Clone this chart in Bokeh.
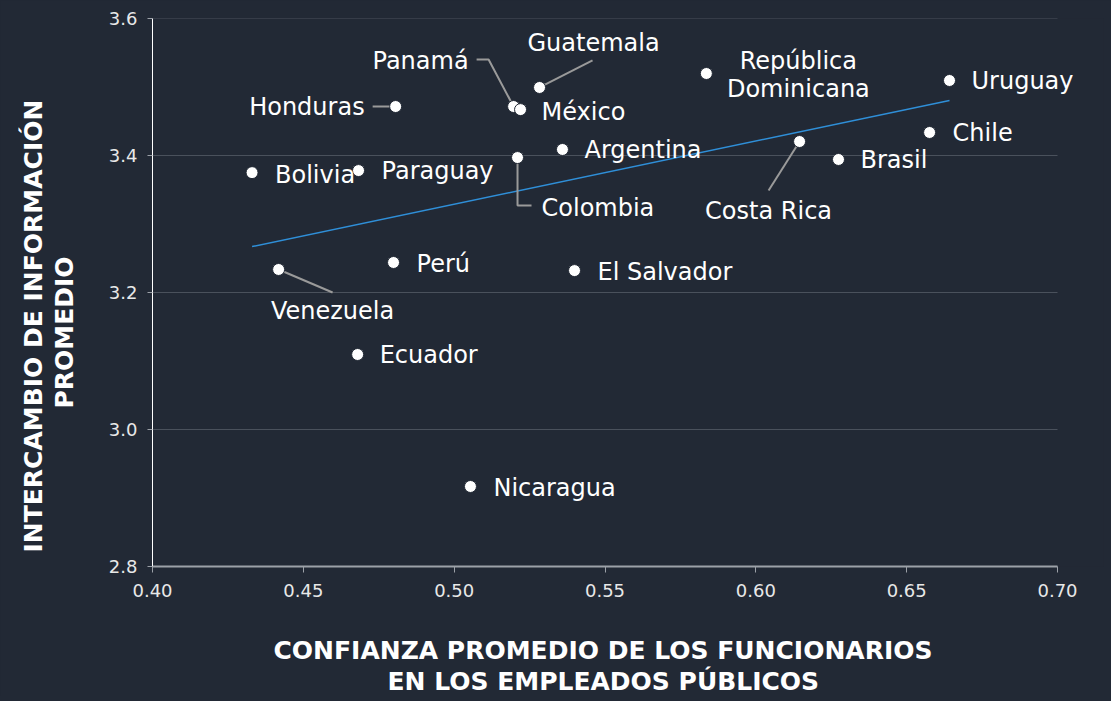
from bokeh.plotting import figure
from bokeh.models import Range1d, FixedTicker, NumeralTickFormatter, Label, Title
from bokeh.embed import file_html
from bokeh.resources import INLINE

# ---------------- data ----------------
countries = ["Bolivia", "Honduras", "Paraguay", "Venezuela", "Perú", "Ecuador",
             "Nicaragua", "Panamá", "México", "Guatemala", "Colombia", "Argentina",
             "El Salvador", "República\nDominicana", "Costa Rica", "Brasil", "Chile", "Uruguay"]
confianza = [0.433, 0.4806, 0.4683, 0.4418, 0.4799, 0.468,
             0.5054, 0.5197, 0.522, 0.5283, 0.521, 0.5359,
             0.5399, 0.5836, 0.6145, 0.6274, 0.6576, 0.6642]
intercambio = [3.375, 3.4715, 3.378, 3.2336, 3.2438, 3.1095,
               2.9168, 3.4715, 3.467, 3.4993, 3.397, 3.4088,
               3.232, 3.5197, 3.4204, 3.3942, 3.4336, 3.5095]
trend_x = [0.433, 0.6642]
trend_y = [3.267, 3.4803]
x_ticks = [0.40, 0.45, 0.50, 0.55, 0.60, 0.65, 0.70]
y_ticks = [2.8, 3.0, 3.2, 3.4, 3.6]
x_title_lines = ["CONFIANZA PROMEDIO DE LOS FUNCIONARIOS", "EN LOS EMPLEADOS PÚBLICOS"]
y_title_lines = ["INTERCAMBIO DE INFORMACIÓN", "PROMEDIO"]

# ---------------- layout (screen pixel offsets, x right / y down) ----------------
label_dx = [23, -31, 23, 54, 23, 22, 23, -45, 21, 54, 24, 22, 23, 92, -31, 22, 23, 22]
label_dy = [2, 0, 0, 42, 2, 1, 2, -46, 2, -44, 50, 1, 1, 1, 69, 1, 1, 1]
label_align = ["left", "right", "left", "center", "left", "left", "left", "right", "left",
               "center", "left", "left", "left", "center", "center", "left", "left", "left"]
leaders = {
    "Honduras": [(0, 0), (-23, 0)],
    "Panamá": [(0, 0), (-25, -47), (-37, -47)],
    "Guatemala": [(0, 0), (53, -27)],
    "Colombia": [(0, 0), (0, 48), (14, 48)],
    "Costa Rica": [(0, 0), (-31, 49)],
    "Venezuela": [(0, 0), (54, 23)],
}

BG = "#222935"
FONT = "DejaVu Sans"
TITLE_SIZE = "25px"
X0, X1, Y0, Y1 = 0.40, 0.70, 2.8, 3.6
AXIS_W, FH = 905, 548           # pixel extent of the 0.40-0.70 axis and of the frame height
LEFT, TOP, RIGHT, BOTTOM = 152, 18, 8, 130
TOTAL_W = 1111
FW = TOTAL_W - LEFT - RIGHT     # frame extends right of 0.70 so labels are not clipped
ppx = AXIS_W / (X1 - X0)
ppy = FH / (Y1 - Y0)
XMAX = X0 + FW / ppx

p = figure(frame_width=FW, frame_height=FH,
           x_range=Range1d(X0, XMAX), y_range=Range1d(Y0, Y1),
           output_backend="svg", toolbar_location=None,
           min_border_left=LEFT, min_border_right=RIGHT, min_border_top=TOP,
           min_border_bottom=BOTTOM)
p.background_fill_color = BG
p.border_fill_color = BG
p.outline_line_color = None
p.xgrid.grid_line_color = None
p.ygrid.grid_line_color = None

p.xaxis.ticker = FixedTicker(ticks=x_ticks)
p.yaxis.ticker = FixedTicker(ticks=y_ticks)
p.xaxis.formatter = NumeralTickFormatter(format="0.00")
p.yaxis.formatter = NumeralTickFormatter(format="0.0")
p.xaxis.bounds = (X0, X1)

for ax in (p.xaxis[0], p.yaxis[0]):
    ax.minor_tick_line_color = None
    ax.major_tick_in = 0
    ax.major_label_text_font = FONT
    ax.major_label_text_font_size = "18px"
    ax.major_label_text_color = "#e8e8e8"

p.xaxis.axis_line_color = "#9ca1a8"
p.xaxis.axis_line_width = 2
p.xaxis.major_tick_line_color = "#9ca1a8"
p.xaxis.major_tick_out = 6
p.xaxis.major_label_standoff = 11

p.yaxis.axis_line_color = "#ffffff"
p.yaxis.axis_line_width = 1
p.yaxis.major_tick_line_color = "#9ca1a8"
p.yaxis.major_tick_out = 5
p.yaxis.major_label_standoff = 10


def title(text, offset, standoff=0):
    return Title(text=text, align="left", offset=offset, standoff=standoff,
                 vertical_align="bottom", text_font=FONT, text_font_style="bold",
                 text_font_size=TITLE_SIZE, text_color="#ffffff")


# x-axis title (two lines), stacked below the axis after a spacer
p.add_layout(Title(text=" ", text_font_size="2px", standoff=30), "below")
p.add_layout(title(x_title_lines[0], 121), "below")
p.add_layout(title(x_title_lines[1], 235), "below")

# y-axis title (two lines), inner line first
p.add_layout(Title(text=" ", text_font_size="2px", standoff=23), "left")
p.add_layout(title(y_title_lines[1], 158), "left")
p.add_layout(title(y_title_lines[0], 14), "left")

# horizontal grid lines, only across the axis span
p.segment(x0=[X0] * len(y_ticks), x1=[X1] * len(y_ticks), y0=y_ticks, y1=y_ticks,
          line_color="#4a515c", line_width=1)

# trend line
p.line(trend_x, trend_y, line_color="#2f8fd8", line_width=1.5)

# leader lines
xs, ys = [], []
for c, x, y in zip(countries, confianza, intercambio):
    if c in leaders:
        xs.append([x + dx / ppx for dx, dy in leaders[c]])
        ys.append([y - dy / ppy for dx, dy in leaders[c]])
p.multi_line(xs, ys, line_color="#9a9a9a", line_width=2)

# points
p.scatter(confianza, intercambio, size=12, fill_color="#ffffff", line_color=BG, line_width=1)

# labels
for c, x, y, dx, dy, al in zip(countries, confianza, intercambio, label_dx, label_dy, label_align):
    p.add_layout(Label(x=x + dx / ppx, y=y - dy / ppy, text=c, text_align=al,
                       text_baseline="middle", text_font=FONT, text_font_size="24px",
                       text_line_height=1.0, text_color="#ffffff"))

html = file_html(p, INLINE)
html = html.replace("</head>", "<style>html,body{background:#222935;}</style></head>")
open("out.html", "w").write(html)
